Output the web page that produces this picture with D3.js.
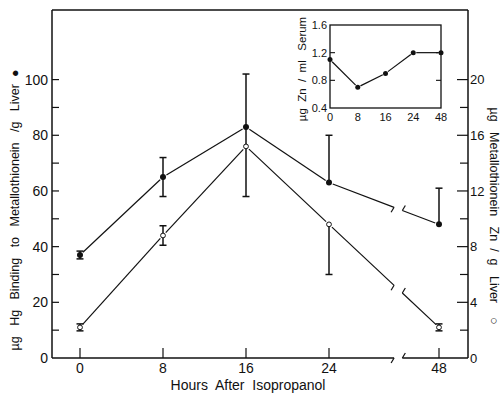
<!DOCTYPE html>
<html>
<head>
<meta charset="utf-8">
<script src="https://cdn.jsdelivr.net/npm/d3@7"></script>
<style>
  body { margin: 0; background: #fff; }
  svg { display: block; font-family: "Liberation Sans", Arial, sans-serif; }
  svg text { white-space: pre; }
</style>
</head>
<body>
<svg id="chart" width="500" height="394"></svg>
<script>
// hours after isopropanol
var hours = [0, 8, 16, 24, 48];
var hourLabels = ["0", "8", "16", "24", "48"];

// Hg binding to metallothionein, ug/g liver (filled, left axis)
var hgValues = [37, 65, 83, 63, 48];
var hgLow = [35.6, 58, 76, 63, 48];
var hgHigh = [38.4, 72, 102, 80, 61];

// metallothionein Zn, ug/g liver (open, right axis)
var znValues = [2.2, 8.8, 15.2, 9.6, 2.2];
var znLow = [1.95, 8.1, 11.6, 6.0, 1.95];
var znHigh = [2.45, 9.5, 15.2, 9.6, 2.45];

// serum Zn, ug/ml (inset)
var serumValues = [1.1, 0.7, 0.9, 1.2, 1.2];

var leftTicks = [0, 20, 40, 60, 80, 100];
var leftMinor = [10, 30, 50, 70, 90];
var rightTicks = [0, 4, 8, 12, 16, 20];
var rightMinor = [2, 6, 10, 14, 18];
var insetTicks = [0.4, 0.8, 1.2, 1.6];

// axis break sits between 24 and 48 h
var breakHours = [38.2, 40.0];

var svg = d3.select("#chart");
var L = 52, R = 468, T = 10, B = 358;

var x = d3.scaleLinear().domain([0, 24, 48]).range([80, 329, 439]);
var yL = d3.scaleLinear().domain([0, 125]).range([B, T]);
var yR = d3.scaleLinear().domain([0, 25]).range([B, T]);

var ink = "#111";

function seg(g, x1, y1, x2, y2, w) {
	g.append("line")
		.attr("x1", x1).attr("y1", y1).attr("x2", x2).attr("y2", y2)
		.attr("stroke", ink).attr("stroke-width", w || 1.2);
}

// shortened segment so lines stop just short of the markers
function gapSeg(g, p, q, g1, g2) {
	var dx = q[0] - p[0], dy = q[1] - p[1], d = Math.sqrt(dx * dx + dy * dy);
	seg(g, p[0] + dx / d * g1, p[1] + dy / d * g1, q[0] - dx / d * g2, q[1] - dy / d * g2);
}

// frame: left, top, right, bottom (bottom with break)
var frame = svg.append("g");
seg(frame, L, T, L, B, 1.5);
seg(frame, L, T, R, T, 1.5);
seg(frame, R, T, R, B, 1.5);
var bx1 = x(breakHours[0]), bx2 = x(breakHours[1]);
seg(frame, L, B, bx1, B, 1.5);
seg(frame, bx1, B, bx1 - 3, B + 5, 1.2);
seg(frame, bx2, B, R, B, 1.5);
seg(frame, bx2, B, bx2 + 3, B - 5, 1.2);

// left axis ticks (inward)
var axL = svg.append("g");
leftTicks.concat(leftMinor).forEach(function(v) {
	if (v > 0) seg(axL, L, yL(v), L + 7, yL(v), 1.2);
});
axL.selectAll("text").data(leftTicks).join("text")
	.attr("x", L - 4).attr("y", function(d) { return yL(d); })
	.attr("dy", "0.36em").attr("text-anchor", "end")
	.attr("font-size", 14).attr("fill", ink)
	.text(function(d) { return d; });

// right axis ticks (inward)
var axR = svg.append("g");
rightTicks.forEach(function(v) { if (v > 0) seg(axR, R - 11, yR(v), R, yR(v), 1.2); });
rightMinor.forEach(function(v) { seg(axR, R - 8, yR(v), R, yR(v), 1.2); });
axR.selectAll("text").data(rightTicks).join("text")
	.attr("x", R + 2).attr("y", function(d) { return yR(d); })
	.attr("dy", "0.36em").attr("font-size", 13).attr("fill", ink)
	.text(function(d) { return d; });

// bottom ticks (inward) and labels
var axB = svg.append("g");
hours.forEach(function(h) { seg(axB, x(h), B, x(h), B - 10, 1.2); });
axB.selectAll("text").data(hours).join("text")
	.attr("x", function(d) { return x(d); }).attr("y", B + 15)
	.attr("text-anchor", "middle").attr("font-size", 14).attr("fill", ink)
	.text(function(d, i) { return hourLabels[i]; });

svg.append("text").attr("x", 248).attr("y", 390)
	.attr("text-anchor", "middle").attr("font-size", 14).attr("fill", ink)
	.text("Hours  After  Isopropanol");

svg.append("text")
	.attr("transform", "translate(19,210) rotate(-90)")
	.attr("text-anchor", "middle").attr("font-size", 12.5).attr("fill", ink)
	.text("µg   Hg   Binding   to   Metallothionein   /g   Liver  ●");

svg.append("text")
	.attr("transform", "translate(490,216) rotate(90)")
	.attr("text-anchor", "middle").attr("font-size", 12.5).attr("fill", ink)
	.text("µg   Metallothionein   Zn  /  g   Liver    ○");

// a series line with the break between 24 and 48
function drawSeries(vals, yScale) {
	var g = svg.append("g");
	var pts = vals.map(function(v, i) { return [x(hours[i]), yScale(v)]; });
	for (var i = 0; i < pts.length - 1; i++) {
		var p = pts[i], q = pts[i + 1];
		if (hours[i + 1] === 48) {
			var t1 = (bx1 - p[0]) / (q[0] - p[0]), t2 = (bx2 - p[0]) / (q[0] - p[0]);
			var a = [bx1, p[1] + (q[1] - p[1]) * t1], b = [bx2, p[1] + (q[1] - p[1]) * t2];
			gapSeg(g, p, a, 4, 0);
			seg(g, a[0], a[1], a[0] - 3, a[1] + 5);
			gapSeg(g, b, q, 0, 4);
			seg(g, b[0], b[1], b[0] + 3, b[1] - 5);
		} else {
			gapSeg(g, p, q, 4, 4);
		}
	}
	return pts;
}

function drawErrors(vals, lo, hi, other, yScale) {
	var g = svg.append("g");
	vals.forEach(function(v, i) {
		var cx = x(hours[i]);
		if (lo[i] === hi[i]) return;
		seg(g, cx, yScale(lo[i]), cx, yScale(hi[i]), 1.5);
		[lo[i], hi[i]].forEach(function(e) {
			if (e !== v && e !== other[i]) seg(g, cx - 3.5, yScale(e), cx + 3.5, yScale(e), 1.5);
		});
	});
}

// open values in left-axis units, so caps can compare
var znInLeft = znValues.map(function(v) { return v * 5; });
var hgInRight = hgValues.map(function(v) { return v / 5; });

drawErrors(hgValues, hgLow, hgHigh, znInLeft, yL);
drawErrors(znValues, znLow, znHigh, hgInRight, yR);
var hgPts = drawSeries(hgValues, yL);
var znPts = drawSeries(znValues, yR);

svg.append("g").selectAll("circle").data(hgPts).join("circle")
	.attr("cx", function(d) { return d[0]; }).attr("cy", function(d) { return d[1]; })
	.attr("r", 3).attr("fill", ink);
svg.append("g").selectAll("circle").data(znPts).join("circle")
	.attr("cx", function(d) { return d[0]; }).attr("cy", function(d) { return d[1]; })
	.attr("r", 2.4).attr("fill", "#fff").attr("stroke", ink).attr("stroke-width", 1);

// inset: serum Zn
var iL = 330, iR = 441, iT = 25, iB = 108;
var xi = d3.scalePoint().domain(hourLabels).range([iL, iR]);
var yi = d3.scaleLinear().domain([0.4, 1.6]).range([iB, iT]);
var inset = svg.append("g");
inset.append("rect").attr("x", iL).attr("y", iT).attr("width", iR - iL).attr("height", iB - iT)
	.attr("fill", "#fff").attr("stroke", ink).attr("stroke-width", 1.3);
[0.8, 1.2].forEach(function(v) {
	seg(inset, iL, yi(v), iL + 5, yi(v), 1.1);
	seg(inset, iR - 5, yi(v), iR, yi(v), 1.1);
});
inset.selectAll("text.yt").data(insetTicks).join("text").attr("class", "yt")
	.attr("x", iL - 3).attr("y", function(d) { return yi(d); })
	.attr("dy", "0.36em").attr("text-anchor", "end").attr("font-size", 11).attr("fill", ink)
	.text(function(d) { return d.toFixed(1); });
inset.selectAll("text.xt").data(hourLabels).join("text").attr("class", "xt")
	.attr("x", function(d) { return xi(d); }).attr("y", iB + 13)
	.attr("text-anchor", "middle").attr("font-size", 11).attr("fill", ink)
	.text(function(d) { return d; });
inset.append("text")
	.attr("transform", "translate(306,69) rotate(-90)")
	.attr("text-anchor", "middle").attr("font-size", 11.5).attr("fill", ink)
	.text("µg  Zn  /  ml   Serum");

var sPts = serumValues.map(function(v, i) { return [xi(hourLabels[i]), yi(v)]; });
for (var k = 0; k < sPts.length - 1; k++) gapSeg(inset, sPts[k], sPts[k + 1], 3, 3);
inset.selectAll("circle").data(sPts).join("circle")
	.attr("cx", function(d) { return d[0]; }).attr("cy", function(d) { return d[1]; })
	.attr("r", 2.5).attr("fill", ink);
</script>
</body>
</html>
